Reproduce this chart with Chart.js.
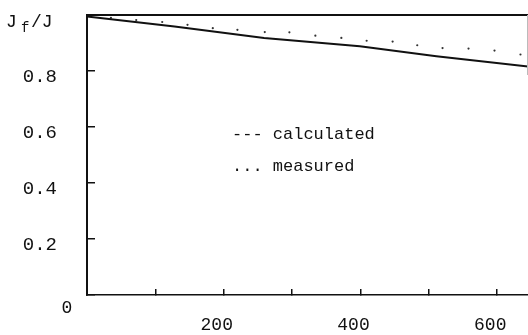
<!DOCTYPE html>
<html><head><meta charset="utf-8">
<script src="https://cdn.jsdelivr.net/npm/chart.js@4"></script>
<style>html,body{margin:0;padding:0;background:#fff}#wrap{width:528px;height:335px}</style>
</head><body><div id="wrap"><canvas id="c" width="528" height="335"></canvas></div>
<script>
// Data
const calcX = [0, 128, 259, 399, 511, 645];
const calcY = [0.995, 0.959, 0.918, 0.888, 0.853, 0.816];
const measX = [35, 72, 110, 147, 184, 220, 260, 296, 334, 372, 409, 447, 483, 520, 558, 596, 634];
const measY = [0.990, 0.982, 0.975, 0.965, 0.953, 0.947, 0.939, 0.938, 0.926, 0.918, 0.908, 0.905, 0.892, 0.882, 0.880, 0.873, 0.859];
const xTickValues = [0, 100, 200, 300, 400, 500, 600];
const xTickLabels = ['', '', '200', '', '400', '', '600'];
const yTickValues = [0, 0.2, 0.4, 0.6, 0.8, 1.0];
const yTickLabels = ['', '0.2', '0.4', '0.6', '0.8', ''];
const legendLabels = ['--- calculated', '... measured'];
const axisTitle = ['J', 'f', '/J'];
const originLabel = '0';

const MONO = '"Liberation Mono", "DejaVu Sans Mono", monospace';

const extras = {
  id: 'extras',
  afterDraw(chart) {
    const ctx = chart.ctx, a = chart.chartArea;
    ctx.save();
    ctx.strokeStyle = '#111';
    ctx.lineWidth = 2;
    ctx.beginPath(); ctx.moveTo(a.left, a.top); ctx.lineTo(a.right, a.top); ctx.stroke();
    ctx.strokeStyle = '#bbb'; ctx.lineWidth = 1;
    ctx.beginPath(); ctx.moveTo(a.right - 0.5, a.top); ctx.lineTo(a.right - 0.5, a.top + 60); ctx.stroke();
    ctx.fillStyle = '#111';
    ctx.textBaseline = 'alphabetic';
    ctx.textAlign = 'left';
    ctx.font = '17px ' + MONO;
    ctx.fillText(legendLabels[0], 232, 139);
    ctx.fillText(legendLabels[1], 232, 171);
    ctx.font = '18px ' + MONO;
    ctx.fillText(axisTitle[0], 6, 27);
    ctx.font = '14px ' + MONO;
    ctx.fillText(axisTitle[1], 21, 32);
    ctx.font = '18px ' + MONO;
    ctx.fillText(axisTitle[2], 31, 27);
    ctx.font = '18px ' + MONO;
    ctx.textAlign = 'center';
    ctx.fillText(originLabel, 67, 313);
    ctx.restore();
  }
};

new Chart(document.getElementById('c'), {
  type: 'scatter',
  data: {
    datasets: [
      {
        label: 'calculated',
        data: calcX.map((x, i) => ({x, y: calcY[i]})),
        showLine: true,
        borderColor: '#111',
        borderWidth: 2,
        pointRadius: 0,
        tension: 0
      },
      {
        label: 'measured',
        data: measX.map((x, i) => ({x, y: measY[i]})),
        showLine: false,
        pointRadius: 1.1,
        pointBorderWidth: 0,
        backgroundColor: '#333'
      }
    ]
  },
  plugins: [extras],
  options: {
    responsive: false,
    animation: false,
    layout: {autoPadding: false, padding: {top: 15, right: 0, left: 0, bottom: 0}},
    plugins: {legend: {display: false}, tooltip: {enabled: false}},
    scales: {
      x: {
        type: 'linear', min: 0, max: 645,
        afterBuildTicks: s => { s.ticks = xTickValues.map(v => ({value: v})); },
        afterFit: s => { s.height = 40; s.paddingLeft = 0; s.paddingRight = 0; s.paddingTop = 0; s.paddingBottom = 0; },
        ticks: {
          includeBounds: false, autoSkip: false, maxRotation: 0,
          callback: (v) => { const i = xTickValues.indexOf(v); return i >= 0 ? xTickLabels[i] : ''; },
          font: {family: MONO, size: 18}, color: '#111', labelOffset: -7, padding: 25
        },
        grid: {drawOnChartArea: false, tickLength: -6, color: '#111', lineWidth: 1.5},
        border: {color: '#111', width: 1.5}
      },
      y: {
        type: 'linear', min: 0, max: 1.0,
        afterBuildTicks: s => { s.ticks = yTickValues.map(v => ({value: v})); },
        afterFit: s => { s.width = 87; s.paddingLeft = 0; s.paddingRight = 0; s.paddingTop = 0; s.paddingBottom = 0; },
        ticks: {
          includeBounds: false, autoSkip: false,
          callback: (v) => { const i = yTickValues.findIndex(t => Math.abs(t - v) < 1e-9); return i >= 0 ? yTickLabels[i] : ''; },
          font: {family: MONO, size: 19}, color: '#111', labelOffset: 6, padding: 38
        },
        grid: {drawOnChartArea: false, tickLength: -8, color: '#111', lineWidth: 1.5},
        border: {color: '#111', width: 2}
      }
    }
  }
});
</script>
</body></html>
